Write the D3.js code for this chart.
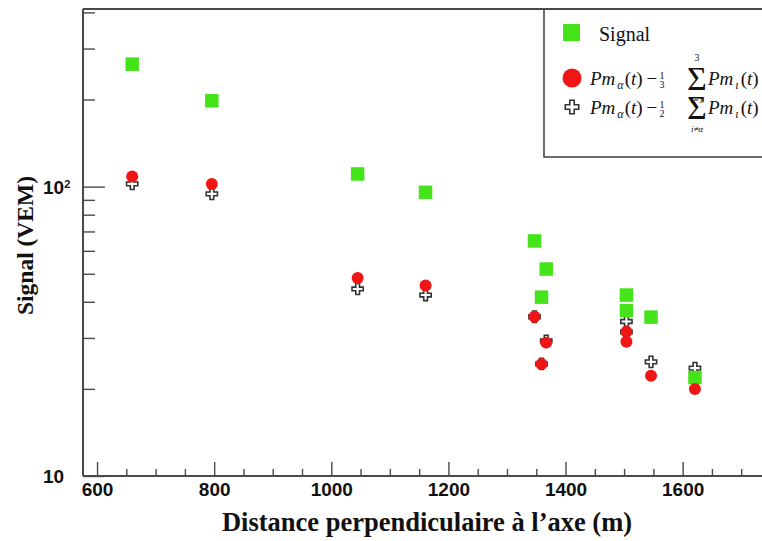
<!DOCTYPE html>
<html>
<head>
<meta charset="utf-8">
<script src="https://cdn.jsdelivr.net/npm/d3@7"></script>
<style>
  html, body { margin: 0; padding: 0; background: #fff; }
  svg { display: block; }
</style>
</head>
<body>
<svg id="chart" width="762" height="541"></svg>
<script>
// ---- data ----
const distance = [660, 796, 1045, 1161, 1347, 1367, 1359, 1504, 1504, 1546, 1621];
const signalValues = [265, 198, 110.6, 95.6, 64.9, 51.9, 41.5, 42.2, 37.3, 35.4, 21.9];
const thirdSumValues = [108.3, 102.2, 48.3, 45.5, 35.5, 28.9, 24.4, 31.5, 29.1, 22.2, 20.0];
const halfSumValues = [102.2, 94.4, 44.3, 42.2, 35.5, 29.3, 24.4, 34.2, 31.5, 24.8, 23.6];
const xTickValues = [600, 800, 1000, 1200, 1400, 1600];
const yMajorTicks = [10, 100];
const yMinorTicks = [20, 30, 40, 50, 60, 70, 80, 90, 200, 300, 400];
const xTitle = "Distance perpendiculaire à l\u2019axe (m)";
const yTitle = "Signal (VEM)";

(function () {
const svg = d3.select("#chart");
const W = 762, H = 541;
const mLeft = 83, mBottom = 476, mTop = 9;

const x = d3.scaleLinear().domain([576, 1760]).range([mLeft, mLeft + (1760 - 576) * 0.5856]);
const y = d3.scaleLog().domain([10, 411]).range([mBottom, mTop]);

const axisColor = "#4a4a4a";
const green = "#44e31a";
const red = "#f01616";

// minor x ticks every 50
const xMinor = d3.range(600, 1800, 50).filter(v => v % 200 !== 0);

const gx = svg.append("g").attr("transform", `translate(0,${mBottom})`);
gx.call(d3.axisBottom(x).tickValues(xMinor).tickSizeInner(-7).tickSizeOuter(0).tickFormat(""));
gx.selectAll(".tick line").attr("stroke", axisColor).attr("stroke-width", 1.4);
gx.select(".domain").remove();

const gxM = svg.append("g").attr("transform", `translate(0,${mBottom})`);
gxM.call(d3.axisBottom(x).tickValues(xTickValues).tickSizeInner(-14).tickSizeOuter(0).tickPadding(7).tickFormat(d3.format("d")));
gxM.select(".domain").remove();
gxM.selectAll(".tick line").attr("stroke", axisColor).attr("stroke-width", 1.4);
gxM.selectAll(".tick text")
  .attr("fill", "#111")
  .style("font-family", "'Liberation Sans', Arial, sans-serif")
  .style("font-weight", "bold")
  .style("font-size", "19px");

// y axis
const gyMinor = svg.append("g").attr("transform", `translate(${mLeft},0)`);
gyMinor.call(d3.axisLeft(y).tickValues(yMinorTicks).tickSizeInner(-12).tickSizeOuter(0).tickFormat(""));
gyMinor.select(".domain").remove();
gyMinor.selectAll(".tick line").attr("stroke", axisColor).attr("stroke-width", 1.4);

const gy = svg.append("g").attr("transform", `translate(${mLeft},0)`);
gy.call(d3.axisLeft(y).tickValues(yMajorTicks).tickSizeInner(-22).tickSizeOuter(0).tickPadding(19).tickFormat(""));
gy.select(".domain").remove();
gy.selectAll(".tick line").attr("stroke", axisColor).attr("stroke-width", 1.4);
gy.selectAll(".tick").each(function(d) {
  const t = d3.select(this).append("text")
    .attr("x", -40).attr("dy", "0.35em")
    .attr("text-anchor", "start")
    .attr("fill", "#111")
    .style("font-family", "'Liberation Sans', Arial, sans-serif")
    .style("font-weight", "bold")
    .style("font-size", "19px");
  const exp = Math.round(Math.log10(d));
  t.append("tspan").text("10");
  if (exp > 1) {
    t.append("tspan").attr("dy", "-0.55em").style("font-size", "11px").text(exp);
  }
});

// frame lines
svg.append("line").attr("x1", mLeft).attr("x2", W + 20).attr("y1", mBottom).attr("y2", mBottom)
  .attr("stroke", axisColor).attr("stroke-width", 2);
svg.append("line").attr("x1", mLeft).attr("x2", mLeft).attr("y1", mTop).attr("y2", mBottom)
  .attr("stroke", axisColor).attr("stroke-width", 2);
svg.append("line").attr("x1", mLeft).attr("x2", W + 20).attr("y1", mTop).attr("y2", mTop)
  .attr("stroke", axisColor).attr("stroke-width", 2);

// axis titles
svg.append("text")
  .attr("x", 427).attr("y", 531)
  .attr("text-anchor", "middle")
  .attr("fill", "#111")
  .style("font-family", "'Liberation Serif', 'Times New Roman', serif")
  .style("font-weight", "bold")
  .style("font-size", "26.5px")
  .text(xTitle);

svg.append("text")
  .attr("transform", "translate(33,245.5) rotate(-90)")
  .attr("text-anchor", "middle")
  .attr("fill", "#111")
  .style("font-family", "'Liberation Serif', 'Times New Roman', serif")
  .style("font-weight", "bold")
  .style("font-size", "23.5px")
  .text(yTitle);

// data marks
const points = distance.map((d, i) => ({ d, s: signalValues[i], c: thirdSumValues[i], h: halfSumValues[i] }));
const crossPath = d3.symbol().type(d3.symbolCross).size(70)();

const plot = svg.append("g");
plot.selectAll(".cross").data(points).join("path")
  .attr("class", "cross")
  .attr("d", crossPath)
  .attr("transform", p => `translate(${x(p.d)},${y(p.h)})`)
  .attr("fill", "#fff").attr("stroke", "#333").attr("stroke-width", 1.6);

const sq = 13.5;
plot.selectAll(".sq").data(points).join("rect")
  .attr("class", "sq")
  .attr("x", p => x(p.d) - sq / 2).attr("y", p => y(p.s) - sq / 2)
  .attr("width", sq).attr("height", sq)
  .attr("fill", green);

plot.selectAll(".dot").data(points).join("circle")
  .attr("class", "dot")
  .attr("cx", p => x(p.d)).attr("cy", p => y(p.c)).attr("r", 6)
  .attr("fill", red);

// legend
const lg = svg.append("g");
lg.append("rect").attr("x", 544).attr("y", mTop).attr("width", 240).attr("height", 148)
  .attr("fill", "#fff").attr("stroke", axisColor).attr("stroke-width", 1.6);
lg.append("line").attr("x1", 544).attr("x2", W + 20).attr("y1", mTop).attr("y2", mTop)
  .attr("stroke", axisColor).attr("stroke-width", 2);

lg.append("rect").attr("x", 563).attr("y", 24).attr("width", 17).attr("height", 17).attr("fill", green);
lg.append("circle").attr("cx", 572).attr("cy", 78).attr("r", 9.5).attr("fill", red);
lg.append("path").attr("d", d3.symbol().type(d3.symbolCross).size(100)())
  .attr("transform", "translate(572,107)")
  .attr("fill", "#fff").attr("stroke", "#333").attr("stroke-width", 1.6);

const serif = "'Liberation Serif', 'Times New Roman', serif";
lg.append("text").attr("x", 599).attr("y", 41)
  .style("font-family", serif).style("font-size", "20px").attr("fill", "#111").text("Signal");

function formula(baseY, fracDen, upper, lower) {
  const g = lg.append("g").style("font-family", serif).attr("fill", "#111");
  const t1 = g.append("text").attr("x", 590).attr("y", baseY).style("font-size", "19px");
  t1.append("tspan").style("font-style", "italic").text("Pm");
  t1.append("tspan").style("font-style", "italic").style("font-size", "12px").attr("dy", 4).attr("dx", 2).text("\u03b1");
  t1.append("tspan").attr("dy", -4).attr("dx", 1).text("(");
  t1.append("tspan").style("font-style", "italic").text("t");
  t1.append("tspan").text(")\u2009\u2212");
  g.append("text").attr("x", 662).attr("y", baseY - 6).attr("text-anchor", "middle").style("font-size", "10px").text("1");
  g.append("text").attr("x", 662).attr("y", baseY + 3).attr("text-anchor", "middle").style("font-size", "10px").text(fracDen);
  g.append("text").attr("x", 697).attr("y", baseY + 5).attr("text-anchor", "middle").style("font-size", "34px").text("\u03a3");
  if (upper) g.append("text").attr("x", 697).attr("y", baseY - 24).attr("text-anchor", "middle").style("font-size", "10px").text(upper);
  g.append("text").attr("x", 697).attr("y", baseY + 18).attr("text-anchor", "middle").style("font-size", "9px").style("font-style", "italic").text(lower);
  const t2 = g.append("text").attr("x", 708).attr("y", baseY).style("font-size", "19px");
  t2.append("tspan").style("font-style", "italic").text("Pm");
  t2.append("tspan").style("font-style", "italic").style("font-size", "12px").attr("dy", 4).attr("dx", 2).text("\u0131");
  t2.append("tspan").attr("dy", -4).attr("dx", 2).text("(");
  t2.append("tspan").style("font-style", "italic").text("t");
  t2.append("tspan").text(")");
}
formula(85, "3", "3", "i=1");
formula(114, "2", null, "i\u2260\u03b1");
})();
</script>
</body>
</html>
